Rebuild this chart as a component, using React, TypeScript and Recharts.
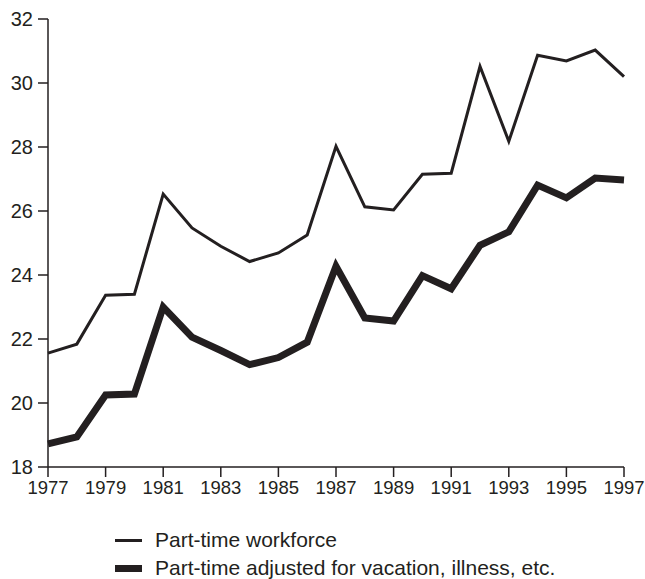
import { LineChart, Line, XAxis, YAxis } from 'recharts'

const years = [1977, 1978, 1979, 1980, 1981, 1982, 1983, 1984, 1985, 1986, 1987, 1988, 1989, 1990, 1991, 1992, 1993, 1994, 1995, 1996, 1997]
const partTime = [21.56, 21.84, 23.37, 23.4, 26.53, 25.47, 24.9, 24.42, 24.69, 25.25, 28.02, 26.13, 26.03, 27.15, 27.18, 30.52, 28.18, 30.87, 30.69, 31.03, 30.2]
const partTimeAdjusted = [18.72, 18.94, 20.25, 20.28, 23.0, 22.06, 21.64, 21.2, 21.42, 21.9, 24.27, 22.66, 22.56, 23.98, 23.57, 24.93, 25.35, 26.81, 26.41, 27.03, 26.97]
const xTicks = [1977, 1979, 1981, 1983, 1985, 1987, 1989, 1991, 1993, 1995, 1997]
const yTicks = [18, 20, 22, 24, 26, 28, 30, 32]
const seriesNames = ['Part-time workforce', 'Part-time adjusted for vacation, illness, etc.']

const ink = '#231f20'
const font = '"Liberation Sans", Arial, Helvetica, sans-serif'

// custom ticks so the font size actually sticks
const XTick = ({ x, y, payload }: any) => (
    <text x={x} y={y} dy={15} textAnchor="middle" fill={ink} fontSize={18.5} fontFamily={font} style={{ fontStretch: 'condensed' }}>
        {payload.value}
    </text>
)

const YTick = ({ x, y, payload }: any) => (
    <text x={x - 3} y={y} dy={7} textAnchor="end" fill={ink} fontSize={20} fontFamily={font}>
        {payload.value}
    </text>
)

export default function App() {
    const data = years.map((year, i) => ({
        year,
        partTime: partTime[i],
        adjusted: partTimeAdjusted[i],
    }))

    return (
        <div style={{ position: 'absolute', left: 0, top: 0, width: 645, height: 579, background: '#fff', fontFamily: font }}>
            <LineChart width={645} height={510} data={data} margin={{ top: 19, right: 21, left: 0, bottom: 0 }}>
                <XAxis
                    dataKey="year"
                    type="number"
                    domain={[1977, 1997]}
                    ticks={xTicks}
                    interval={0}
                    height={43}
                    stroke={ink}
                    strokeWidth={1.5}
                    tickSize={10}
                    tick={<XTick />}
                />
                <YAxis
                    type="number"
                    domain={[18, 32]}
                    ticks={yTicks}
                    interval={0}
                    width={48}
                    stroke={ink}
                    strokeWidth={1.5}
                    tickSize={10}
                    tick={<YTick />}
                />
                <Line dataKey="partTime" stroke={ink} strokeWidth={3} strokeLinejoin="miter" dot={false} isAnimationActive={false} />
                <Line dataKey="adjusted" stroke={ink} strokeWidth={7} strokeLinejoin="miter" dot={false} isAnimationActive={false} />
            </LineChart>
            <div style={{ position: 'absolute', left: 115, top: 526, fontSize: 21, color: ink, lineHeight: '28px', whiteSpace: 'nowrap' }}>
                {seriesNames.map((name, i) => (
                    <div key={name} style={{ display: 'flex', alignItems: 'center' }}>
                        <span style={{ display: 'inline-block', width: 27, height: i === 0 ? 3 : 7, background: ink, marginRight: 13 }} />
                        <span>{name}</span>
                    </div>
                ))}
            </div>
        </div>
    )
}
